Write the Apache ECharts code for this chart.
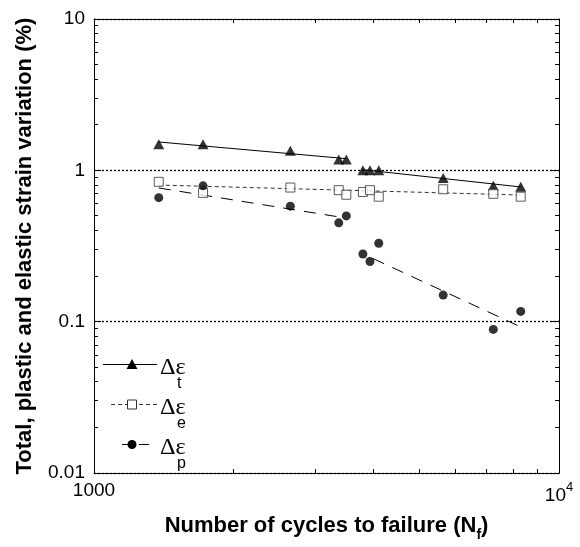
<!DOCTYPE html>
<html>
<head>
<meta charset="utf-8">
<script src="https://cdn.jsdelivr.net/npm/echarts@6/dist/echarts.min.js"></script>
<style>
html,body{margin:0;padding:0;background:#fff;}
#c{width:580px;height:547px;}
</style>
</head>
<body>
<div id="c"></div>
<script>
// ---- data ----
const cycles = [1378, 1716, 2644, 3360, 3488, 3787, 3922, 4096, 5636, 7223, 8274];
const totalStrain = [1.49, 1.49, 1.35, 1.18, 1.18, 1.0, 1.0, 1.0, 0.89, 0.79, 0.78];
const elasticStrain = [0.84, 0.71, 0.77, 0.74, 0.69, 0.72, 0.74, 0.67, 0.75, 0.70, 0.67];
const plasticStrain = [0.66, 0.79, 0.58, 0.45, 0.50, 0.28, 0.25, 0.33, 0.15, 0.089, 0.117];

// fitted lines (end points)
const totalFitA = [[1378, 1.54], [3488, 1.195]];
const totalFitB = [[3787, 1.01], [8274, 0.777]];
const elasticFit = [[1378, 0.80], [8274, 0.687]];
const plasticFitA = [[1378, 0.765], [3470, 0.485]];
const plasticFitB = [[3986, 0.261], [8274, 0.0924]];

const xMinorTicks = [2000, 3000, 4000, 5000, 6000, 7000, 8000, 9000];
const yMinorTicks = [0.02,0.03,0.04,0.05,0.06,0.07,0.08,0.09,0.2,0.3,0.4,0.5,0.6,0.7,0.8,0.9,2,3,4,5,6,7,8,9];
const yTickLabels = {0.01: '0.01', 0.1: '0.1', 1: '1', 10: '10'};

const legendNames = ['t', 'e', 'p'];

const chart = echarts.init(document.getElementById('c'), null, {renderer: 'canvas'});
const FONT = '"Liberation Sans", Arial, sans-serif';

function pts(xs, ys) { return xs.map((x, i) => [x, ys[i]]); }

const X_MIN = 1000, X_MAX = 10000, Y_MIN = 0.01, Y_MAX = 10;
const axisLine = {show: true, onZero: false, lineStyle: {color: '#000', width: 1}};

function crisp(v) { return Math.round(v - 0.5) + 0.5; }

const option = {
  backgroundColor: '#fff',
  animation: false,
  grid: {left: 94, right: 21, top: 19, bottom: 63},
  xAxis: [
    {
      type: 'log', logBase: 10, min: X_MIN, max: X_MAX,
      position: 'bottom',
      axisLine: axisLine,
      axisTick: {show: true, inside: true, length: 7, lineStyle: {color: '#000'}},
      axisLabel: {
        margin: 8, color: '#000', fontFamily: FONT, fontSize: 19,
        formatter: v => v >= 9999 ? '{b|10}{s|4}' : '1000',
        rich: {b: {fontSize: 19, fontFamily: FONT, color: '#000', verticalAlign: 'bottom', lineHeight: 24},
               s: {fontSize: 13, fontFamily: FONT, color: '#000', verticalAlign: 'top', lineHeight: 24}}
      },
      splitLine: {show: false},
      name: 'Number of cycles to failure (N{sub|f})',
      nameLocation: 'middle', nameGap: 31,
      nameTextStyle: {
        fontFamily: FONT, fontSize: 22, fontWeight: 'bold', color: '#000', verticalAlign: 'top', lineHeight: 25,
        rich: {sub: {fontFamily: FONT, fontSize: 14, fontWeight: 'bold', color: '#000', verticalAlign: 'bottom', lineHeight: 32}}
      }
    },
    {
      type: 'log', logBase: 10, min: X_MIN, max: X_MAX,
      position: 'top',
      axisLine: axisLine,
      axisTick: {show: false},
      axisLabel: {show: false}, splitLine: {show: false}
    }
  ],
  yAxis: [
    {
      type: 'log', logBase: 10, min: Y_MIN, max: Y_MAX,
      position: 'left',
      axisLine: axisLine,
      axisTick: {show: true, inside: true, length: 7, lineStyle: {color: '#000'}},
      axisLabel: {
        margin: 9, color: '#000', fontFamily: FONT, fontSize: 19,
        formatter: v => yTickLabels[v] !== undefined ? yTickLabels[v] : String(v)
      },
      splitLine: {show: true, lineStyle: {color: '#000', type: [2, 2], width: 1.3}},
      name: 'Total, plastic and elastic strain variation (%)',
      nameLocation: 'middle', nameGap: 58, nameRotate: 90,
      nameTextStyle: {fontFamily: FONT, fontSize: 22, fontWeight: 'bold', color: '#000'}
    },
    {
      type: 'log', logBase: 10, min: Y_MIN, max: Y_MAX,
      position: 'right',
      axisLine: axisLine,
      axisTick: {show: true, inside: true, length: 7, lineStyle: {color: '#000'}},
      axisLabel: {show: false}, splitLine: {show: false}
    }
  ],
  series: [
    // minor ticks along bottom and top edges
    {
      type: 'custom', silent: true, clip: false, z: 3,
      data: xMinorTicks.map(v => [v, 1]),
      renderItem: function (params, api) {
        const v = api.value(0);
        const b = api.coord([v, Y_MIN]);
        const t = api.coord([v, Y_MAX]);
        const x = crisp(b[0]);
        return {type: 'group', children: [
          {type: 'line', shape: {x1: x, y1: b[1], x2: x, y2: b[1] - 4}, style: {stroke: '#000', lineWidth: 1}},
          {type: 'line', shape: {x1: x, y1: t[1], x2: x, y2: t[1] + 4}, style: {stroke: '#000', lineWidth: 1}}
        ]};
      }
    },
    // minor ticks along left and right edges
    {
      type: 'custom', silent: true, clip: false, z: 3,
      data: yMinorTicks.map(v => [2000, v]),
      renderItem: function (params, api) {
        const v = api.value(1);
        const l = api.coord([X_MIN, v]);
        const r = api.coord([X_MAX, v]);
        const y = crisp(l[1]);
        return {type: 'group', children: [
          {type: 'line', shape: {x1: l[0], y1: y, x2: l[0] + 4, y2: y}, style: {stroke: '#000', lineWidth: 1}},
          {type: 'line', shape: {x1: r[0], y1: y, x2: r[0] - 4, y2: y}, style: {stroke: '#000', lineWidth: 1}}
        ]};
      }
    },
    {type: 'line', data: totalFitA, showSymbol: false, lineStyle: {color: '#000', width: 1}, z: 2},
    {type: 'line', data: totalFitB, showSymbol: false, lineStyle: {color: '#000', width: 1}, z: 2},
    {type: 'line', data: elasticFit, showSymbol: false, lineStyle: {color: '#333', width: 1, type: [4, 3]}, z: 2},
    {type: 'line', data: plasticFitA, showSymbol: false, lineStyle: {color: '#000', width: 1, type: [12, 9]}, z: 2},
    {type: 'line', data: plasticFitB, showSymbol: false, lineStyle: {color: '#000', width: 1, type: [12, 9]}, z: 2},
    {name: 'Δεt', type: 'scatter', data: pts(cycles, totalStrain), symbol: 'triangle', symbolSize: [11, 10],
     itemStyle: {color: '#000'}, z: 5},
    {name: 'Δεe', type: 'scatter', data: pts(cycles, elasticStrain), symbol: 'rect', symbolSize: 9,
     itemStyle: {color: '#fff', borderColor: '#333', borderWidth: 1}, z: 5},
    {name: 'Δεp', type: 'scatter', data: pts(cycles, plasticStrain), symbol: 'circle', symbolSize: 9,
     itemStyle: {color: '#000'}, z: 5}
  ],
  graphic: []
};

// legend drawn in lower-left of plot
const legendRows = [364, 404, 444];
const g = [];
const lineSpecs = [
  {x1: 103, x2: 157, dash: null},
  {x1: 111, x2: 157, dash: [4, 3]},
  {x1: 122, x2: 154, dash: [10, 7]}
];
legendNames.forEach((nm, i) => {
  const y = legendRows[i] + 0.5;
  g.push({type: 'line', shape: {x1: lineSpecs[i].x1, y1: y, x2: lineSpecs[i].x2, y2: y},
          style: {stroke: i === 1 ? '#333' : '#000', lineWidth: 1, lineDash: lineSpecs[i].dash}, z: 10});
  if (i === 0) {
    g.push({type: 'polygon', shape: {points: [[132, y - 5.5], [126.5, y + 4.5], [137.5, y + 4.5]]}, style: {fill: '#000'}, z: 11});
  } else if (i === 1) {
    g.push({type: 'rect', shape: {x: 127.5, y: y - 4.5, width: 9, height: 9}, style: {fill: '#fff', stroke: '#333', lineWidth: 1}, z: 11});
  } else {
    g.push({type: 'circle', shape: {cx: 132, cy: y, r: 4.5}, style: {fill: '#000'}, z: 11});
  }
  g.push({type: 'text', x: 160, y: y + 3, style: {text: 'Δε', fill: '#000', font: '24px "Liberation Serif", "Times New Roman", serif', verticalAlign: 'middle', textAlign: 'left'}, z: 11});
  g.push({type: 'text', x: 177, y: y + 19, style: {text: nm, fill: '#000', font: '16px "Liberation Sans", Arial, sans-serif', verticalAlign: 'middle', textAlign: 'left'}, z: 11});
});
option.graphic = g;

chart.setOption(option);
</script>
</body>
</html>
